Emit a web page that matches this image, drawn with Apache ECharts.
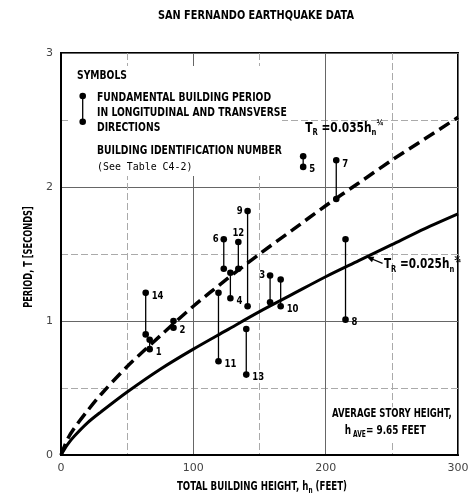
<!DOCTYPE html>
<html><head><meta charset="utf-8">
<script src="https://cdn.jsdelivr.net/npm/echarts@6/dist/echarts.min.js"></script>
<style>html,body{margin:0;padding:0;background:#fff}#c{width:473px;height:497px}</style>
</head><body><div id="c"></div>
<script>
// ---- data ----
const buildingIds   = ['1','2','3','4','5','6','7','8','9','10','11','12','13','14'];
const heights       = [67, 85, 158, 128, 183, 123, 208, 215, 141, 166, 119, 134, 140, 64];
const periodUpper   = [0.86, 1.00, 1.34, 1.36, 2.23, 1.61, 2.20, 1.61, 1.82, 1.31, 1.21, 1.59, 0.94, 1.21];
const periodLower   = [0.79, 0.95, 1.14, 1.17, 2.15, 1.39, 1.91, 1.01, 1.11, 1.11, 0.70, 1.39, 0.60, 0.90];
const curveHeights  = [0, 5, 10, 20, 30, 50, 75, 100, 125, 150, 175, 200, 225, 250, 275, 300];
const curveUpper    = [0, 0.12, 0.20, 0.33, 0.45, 0.66, 0.89, 1.11, 1.31, 1.50, 1.68, 1.86, 2.03, 2.20, 2.36, 2.52];
const curveLower    = [0, 0.08, 0.14, 0.24, 0.32, 0.47, 0.64, 0.79, 0.93, 1.07, 1.20, 1.33, 1.45, 1.57, 1.69, 1.80];
const xTicks = [0, 100, 200, 300];
const yTicks = [0, 1, 2, 3];

// label placement per building (style, not data)
const labelPlace = {
  '1':'rb','2':'rb','3':'lt','4':'rb','5':'rb','6':'lt','7':'rt','8':'rb',
  '9':'lt','10':'rb','11':'rb','12':'top','13':'rb','14':'rt'
};

const BF = '"DejaVu Sans", sans-serif';
const SX = 0.77; // horizontal squeeze to imitate the condensed lettering

const chart = echarts.init(document.getElementById('c'), null, {renderer:'canvas'});

const buildingData = buildingIds.map((id,i)=>[heights[i], periodUpper[i], periodLower[i], id]);

function renderBuilding(params, api) {
  const x = api.value(0), t1 = api.value(1), t2 = api.value(2);
  const id = buildingIds[params.dataIndex];
  const p1 = api.coord([x, t1]), p2 = api.coord([x, t2]);
  const pl = labelPlace[id];
  let lx, ly, align = 'left';
  if (pl === 'rb') { lx = p2[0] + 6; ly = p2[1] + 3; }
  else if (pl === 'rt') { lx = p1[0] + 6; ly = p1[1] + 4; }
  else if (pl === 'lt') { lx = p1[0] - 5; ly = p1[1]; align = 'right'; }
  else { lx = p1[0]; ly = p1[1] - 9; align = 'center'; }
  return {
    type: 'group',
    children: [
      {type:'line', shape:{x1:p1[0], y1:p1[1], x2:p2[0], y2:p2[1]}, style:{stroke:'#000', lineWidth:1.3}},
      {type:'circle', shape:{cx:p1[0], cy:p1[1], r:3.3}, style:{fill:'#000'}},
      {type:'circle', shape:{cx:p2[0], cy:p2[1], r:3.3}, style:{fill:'#000'}},
      {type:'text', x:lx, y:ly, scaleX: 0.85, style:{text:id, fill:'#000', font:'bold 10px ' + BF, textAlign:align, textVerticalAlign:'middle'}}
    ]
  };
}

const option = {
  animation: false,
  backgroundColor: '#fff',
  grid: {left: 61, right: 15, top: 53, bottom: 42, show: true, borderColor: '#000', borderWidth: 2, backgroundColor: 'transparent'},
  xAxis: {
    type: 'value', min: xTicks[0], max: xTicks[xTicks.length-1], interval: 100,
    axisLine: {show: true, lineStyle: {color: '#000', width: 2}},
    axisTick: {show: false},
    axisLabel: {color: '#444', fontSize: 11, fontFamily: 'DejaVu Sans', margin: 8},
    splitLine: {show: true, lineStyle: {color: '#666', width: 1}},
    minorTick: {show: false, splitNumber: 2},
    minorSplitLine: {show: true, lineStyle: {color: '#aaa', width: 1, type: [7, 3]}}
  },
  yAxis: {
    type: 'value', min: yTicks[0], max: yTicks[yTicks.length-1], interval: 1,
    axisLine: {show: true, lineStyle: {color: '#000', width: 2}},
    axisTick: {show: false},
    axisLabel: {color: '#444', fontSize: 11, fontFamily: 'DejaVu Sans', margin: 8},
    splitLine: {show: true, lineStyle: {color: '#666', width: 1}},
    minorTick: {show: false, splitNumber: 2},
    minorSplitLine: {show: true, lineStyle: {color: '#aaa', width: 1, type: [7, 3]}}
  },
  series: [
    {type: 'line', data: curveHeights.map((h,i)=>[h, curveUpper[i]]), smooth: 0.3, symbol: 'none',
     lineStyle: {color: '#000', width: 3.5, type: [12, 6]}, z: 3},
    {type: 'line', data: curveHeights.map((h,i)=>[h, curveLower[i]]), smooth: 0.3, symbol: 'none',
     lineStyle: {color: '#000', width: 3}, z: 3},
    {type: 'custom', renderItem: renderBuilding, data: buildingData, z: 4,
     encode: {x: 0, y: [1, 2]}}
  ]
};
chart.setOption(option);

function px(pt) { return chart.convertToPixel({gridIndex: 0}, pt); }

function txt(text, x, y, size, extra) {
  return Object.assign({type:'text', x:x, y:y, scaleX: SX, z: 60,
    style: {text: text, font: 'bold ' + size + 'px ' + BF, fill: '#000', textVerticalAlign: 'middle'}}, extra || {});
}

const trRich = {
  t: {fontFamily: BF, fontWeight: 'bold', fontSize: 14, color: '#000', lineHeight: 18, verticalAlign: 'middle'},
  s: {fontFamily: BF, fontWeight: 'bold', fontSize: 9, color: '#000', lineHeight: 10, verticalAlign: 'bottom'},
  p: {fontFamily: BF, fontWeight: 'bold', fontSize: 9, color: '#000', lineHeight: 8, verticalAlign: 'top'}
};
const subRich = {
  a: {fontFamily: BF, fontWeight: 'bold', fontSize: 12, color: '#000', lineHeight: 16, verticalAlign: 'middle'},
  s: {fontFamily: BF, fontWeight: 'bold', fontSize: 8, color: '#000', lineHeight: 8, verticalAlign: 'bottom'}
};

const lbl1 = px([184.5, 2.44]);
const lbl2 = px([244, 1.42]);
const arrTip = px([231, 1.48]);
const arrTail = px([243, 1.43]);
const noteA = px([250, 0.305]);
const noteB = px([245, 0.18]);

// arrow head
const ang = Math.atan2(arrTip[1]-arrTail[1], arrTip[0]-arrTail[0]);
const hl = 7, hw = 3;
const head = [
  [arrTip[0], arrTip[1]],
  [arrTip[0] - hl*Math.cos(ang) + hw*Math.sin(ang), arrTip[1] - hl*Math.sin(ang) - hw*Math.cos(ang)],
  [arrTip[0] - hl*Math.cos(ang) - hw*Math.sin(ang), arrTip[1] - hl*Math.sin(ang) + hw*Math.cos(ang)]
];

chart.setOption({
  graphic: [
    {type:'text', x:256, y:16, scaleX: 0.75, z: 60, style:{text:'SAN FERNANDO EARTHQUAKE DATA', font:'bold 13px ' + BF, fill:'#000', textAlign:'center', textVerticalAlign:'middle'}},
    {type:'rect', shape:{x:70, y:66, width:212, height:110}, style:{fill:'#fff'}, z: 50},
    txt('SYMBOLS', 77, 76, 12),
    {type:'line', shape:{x1:82.7, y1:96, x2:82.7, y2:121.7}, style:{stroke:'#000', lineWidth:1.3}, z: 51},
    {type:'circle', shape:{cx:82.7, cy:96, r:3.3}, style:{fill:'#000'}, z: 51},
    {type:'circle', shape:{cx:82.7, cy:121.7, r:3.3}, style:{fill:'#000'}, z: 51},
    txt('FUNDAMENTAL BUILDING PERIOD', 97, 98, 12),
    txt('IN LONGITUDINAL AND TRANSVERSE', 97, 113, 12),
    txt('DIRECTIONS', 97, 128, 12),
    txt('BUILDING IDENTIFICATION NUMBER', 97, 151, 12),
    {type:'text', x:97, y:167, z:60, scaleX: 0.9, style:{text:'(See Table C4-2)', font:'11px "DejaVu Sans Mono", "Liberation Mono", monospace', fill:'#000', textVerticalAlign:'middle'}},
    {type:'text', x:lbl1[0], y:lbl1[1], scaleX: 0.76, z: 60, style:{text:'{t|T}{s|R}{t| =0.035h}{s|n}{p|¾}', rich: trRich, textVerticalAlign:'middle'}},
    {type:'text', x:lbl2[0], y:lbl2[1], scaleX: 0.75, z: 60, style:{text:'{t|T}{s|R}{t| =0.025h}{s|n}{p|¾}', rich: trRich, textVerticalAlign:'middle'}},
    {type:'line', shape:{x1:arrTail[0], y1:arrTail[1], x2:arrTip[0], y2:arrTip[1]}, style:{stroke:'#000', lineWidth:1.2}, z: 60},
    {type:'polygon', shape:{points: head}, style:{fill:'#000'}, z: 60},
    {type:'text', x:noteA[0], y:noteA[1], scaleX: 0.71, z: 60, style:{text:'AVERAGE STORY HEIGHT,', font:'bold 12px ' + BF, fill:'#000', textAlign:'center', textVerticalAlign:'middle', backgroundColor:'#fff', padding:[1,2]}},
    {type:'text', x:noteB[0], y:noteB[1], scaleX: 0.74, z: 60, style:{text:'{a|h}{s| AVE}{a|= 9.65 FEET}', textAlign:'center', textVerticalAlign:'middle', backgroundColor:'#fff', padding:[1,2], rich: subRich}},
    // axis names
    {type:'text', x:262, y:487, scaleX: 0.72, z: 60, style:{text:'{a|TOTAL BUILDING HEIGHT, h}{s|n}{a| (FEET)}', textAlign:'center', textVerticalAlign:'middle', rich: subRich}},
    {type:'text', x:29, y:257, rotation: Math.PI/2, scaleX: 0.69, z: 60, style:{text:'PERIOD, T [SECONDS]', font:'bold 12px ' + BF, fill:'#000', textAlign:'center', textVerticalAlign:'middle'}}
  ]
});
</script></body></html>
